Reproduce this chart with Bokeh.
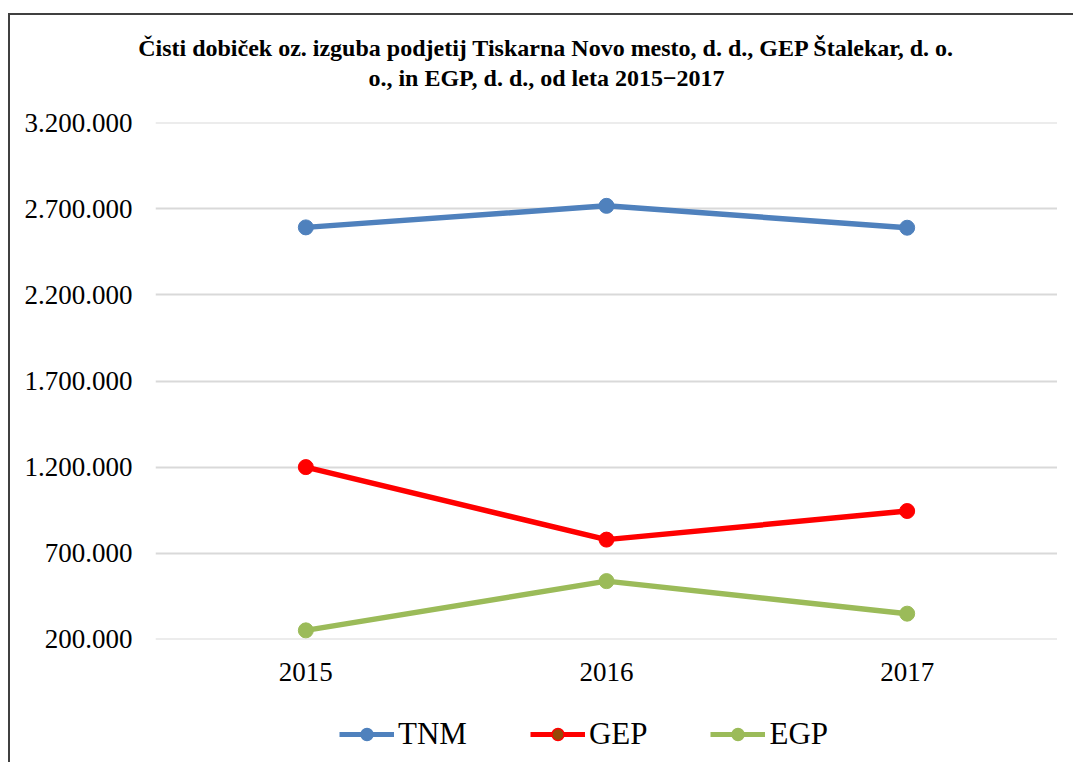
from bokeh.plotting import figure
from bokeh.layouts import column
from bokeh.models import (FixedTicker, Legend, LegendItem, ColumnDataSource,
                          InlineStyleSheet, Range1d, Label)
from bokeh.embed import file_html
from bokeh.resources import INLINE

# ---- data ----
years = ["2015", "2016", "2017"]
tnm = [2592000, 2717000, 2590000]
gep = [1200000, 779000, 945000]
egp = [252000, 538000, 349000]
y_ticks = [200000, 700000, 1200000, 1700000, 2200000, 2700000, 3200000]
title_lines = [
    "Čisti dobiček oz. izguba podjetij Tiskarna Novo mesto, d. d., GEP Štalekar, d. o.",
    "o., in EGP, d. d., od leta 2015−2017",
]
series_names = ["TNM", "GEP", "EGP"]

FONT = "Liberation Serif"
W = 1057
colors = {"TNM": "#4f81bd", "GEP": "#ff0000", "EGP": "#9bbb59"}
values = {"TNM": tnm, "GEP": gep, "EGP": egp}


def blank_fig(h):
    f = figure(width=W, height=h, x_range=Range1d(0, 1), y_range=Range1d(0, 1),
               min_border=0, x_axis_location=None, y_axis_location=None,
               output_backend="svg", toolbar_location=None, frame_align=False)
    f.outline_line_alpha = 0
    f.grid.visible = False
    f.background_fill_color = "white"
    f.border_fill_color = "white"
    return f


# ---- title strip ----
pt = blank_fig(100)
for i, t in enumerate(title_lines):
    pt.add_layout(Label(x=546, y=47 + i * 30, x_units="canvas", y_units="canvas",
                        text=t, text_align="center", text_baseline="alphabetic",
                        text_font=FONT, text_font_style="bold",
                        text_font_size="24px", text_color="black"))

# ---- main chart ----
p = figure(x_range=years, y_range=Range1d(199000, 3201000), width=W, height=600,
           output_backend="svg", toolbar_location=None,
           min_border_left=155, min_border_right=0, min_border_top=22,
           min_border_bottom=61)
p.outline_line_alpha = 0
p.background_fill_color = "white"
p.border_fill_color = "white"

p.yaxis.ticker = FixedTicker(ticks=y_ticks)
p.yaxis.major_label_overrides = {v: f"{v:,}".replace(",", ".") for v in y_ticks}
for ax in (p.xaxis, p.yaxis):
    ax.axis_line_alpha = 0
    ax.major_tick_line_alpha = 0
    ax.minor_tick_line_alpha = 0
    ax.major_tick_in = 0
    ax.major_tick_out = 0
    ax.major_label_text_font = FONT
    ax.major_label_text_color = "black"
p.yaxis.major_label_text_font_size = "27px"
p.xaxis.major_label_text_font_size = "27px"
p.yaxis.major_label_standoff = 23
p.xaxis.major_label_standoff = 23

p.xgrid.grid_line_alpha = 0
p.ygrid.grid_line_color = "#d9d9d9"
p.ygrid.grid_line_width = 2

for name in series_names:
    c = colors[name]
    src = ColumnDataSource(dict(x=years, y=values[name]))
    p.line("x", "y", source=src, line_color=c, line_width=5.5)
    p.scatter("x", "y", source=src, size=15, fill_color=c, line_color=c)

# ---- legend strip (proxy renderers sit outside the visible range) ----
pl = blank_fig(60)
items = []
for name in series_names:
    c = colors[name]
    ln = pl.line(x=[-10, -9], y=[-10, -10], line_color=c, line_width=5)
    fill = "#974806" if name == "GEP" else c
    sc = pl.scatter(x=[-10], y=[-10], size=14, fill_color=fill, line_color=c,
                    line_width=1.5)
    items.append(LegendItem(label=name, renderers=[ln, sc]))

legend = Legend(items=items, orientation="horizontal", location=(339, 8),
                glyph_width=55, glyph_height=30, label_standoff=4, spacing=63,
                padding=0, margin=0, border_line_alpha=0, background_fill_alpha=0,
                label_text_font=FONT, label_text_font_size="31px",
                label_text_color="black")
pl.add_layout(legend, "center")

layout = column(pt, p, pl, spacing=0)
layout.stylesheets = [InlineStyleSheet(css="""
:host { position: relative; }
:host::after {
  content: ""; position: absolute; left: 8px; top: 13px; right: -20px; bottom: -20px;
  border-left: 2px solid #404040; border-top: 2px solid #404040;
  pointer-events: none; z-index: 10;
}
""")]

open("out.html", "w").write(file_html(layout, INLINE))
